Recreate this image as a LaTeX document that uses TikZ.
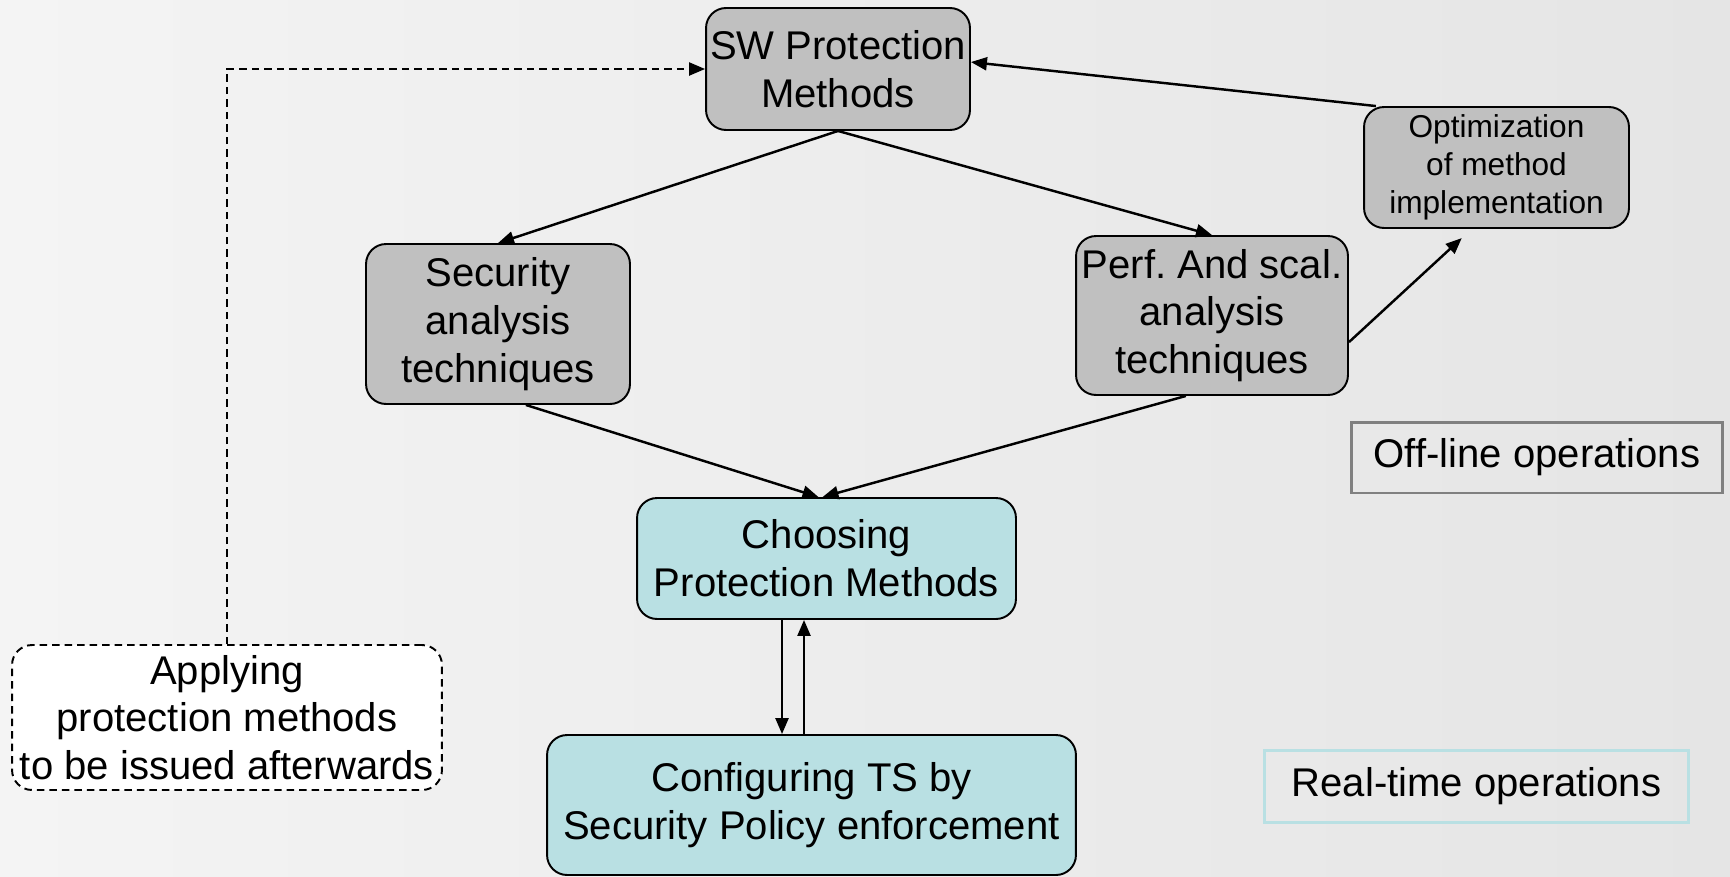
\documentclass[tikz,border=0pt]{standalone}
\usepackage{fontspec}
\setmainfont{Liberation Sans}
\usetikzlibrary{arrows.meta}
\definecolor{boxgray}{RGB}{192,192,192}
\definecolor{boxcyan}{RGB}{185,224,227}
\definecolor{bgleft}{RGB}{244,244,244}
\definecolor{bgright}{RGB}{229,229,229}
\definecolor{framegray}{RGB}{128,128,128}
\definecolor{framecyan}{RGB}{185,224,227}
\tikzset{
    box/.style={draw=black, line width=1.1pt, rounded corners=0.4cm, inner sep=0pt,
        align=center, font=\fontsize{22.8}{27.2}\selectfont},
    label box/.style={line width=1.7pt, inner sep=0pt, font=\fontsize{22.8}{27.2}\selectfont}
}

\begin{document}
\begin{tikzpicture}[x=0.02cm, y=-0.02cm]
    \fill[left color=bgleft, right color=bgright] (0,0) rectangle (1730,876);
    \useasboundingbox (0,0) rectangle (1730,876);

    \node[box, fill=boxgray, minimum width=5.28cm, minimum height=2.44cm] (1) at (838,69) {SW Protection\\Methods};
    \node[box, fill=boxgray, minimum width=5.28cm, minimum height=3.2cm] (2) at (498,324) {Security\\analysis\\techniques};
    \node[box, fill=boxgray, minimum width=5.44cm, minimum height=3.18cm] (3) at (1212,315.5) {Perf.\ And scal.\\analysis\\techniques};
    \node[box, fill=boxgray, minimum width=5.3cm, minimum height=2.42cm, font=\fontsize{18}{21.5}\selectfont] (4) at (1496.5,167.5) {Optimization\\of method\\implementation};
    \node[box, fill=boxcyan, minimum width=7.58cm, minimum height=2.42cm] (5) at (826.5,558.5) {Choosing\\Protection Methods};
    \node[box, fill=boxcyan, minimum width=10.58cm, minimum height=2.8cm] (6) at (811.5,805) {Configuring TS by\\Security Policy enforcement};
    \node[box, fill=white, dash pattern=on 0.15cm off 0.1cm, minimum width=8.6cm, minimum height=2.9cm] (7) at (227,717.5) {Applying\\protection methods\\to be issued afterwards};
    \node[label box, draw=framegray, minimum width=7.44cm, minimum height=1.42cm] (8) at (1537,457.5) {Off-line operations};
    \node[label box, draw=framecyan, minimum width=8.5cm, minimum height=1.44cm] (9) at (1476.5,786) {Real-time operations};

    \path[-{Triangle[length=0.32cm,width=0.26cm]}, black, line width=1.4pt]
    (4.153) edge (1.3)
    (1.south) edge (2.north)
    (1.south) edge (3.north)
    (3.-11) edge [shorten >=0.27cm] (4.-112)
    (2.-71) edge ([xshift=-0.16cm]5.north)
    (3.-108) edge ([xshift=-0.08cm]5.north)
    ([xshift=-0.89cm]5.south) edge ([xshift=-0.89cm]5.south |- 6.north)
    ([xshift=-0.45cm]5.south |- 6.north) edge ([xshift=-0.45cm]5.south);

    \draw[-{Triangle[length=0.32cm,width=0.26cm]}, line width=1.3pt, dash pattern=on 0.15cm off 0.1cm] (7.north) |- (1.west);
\end{tikzpicture}
\end{document}
